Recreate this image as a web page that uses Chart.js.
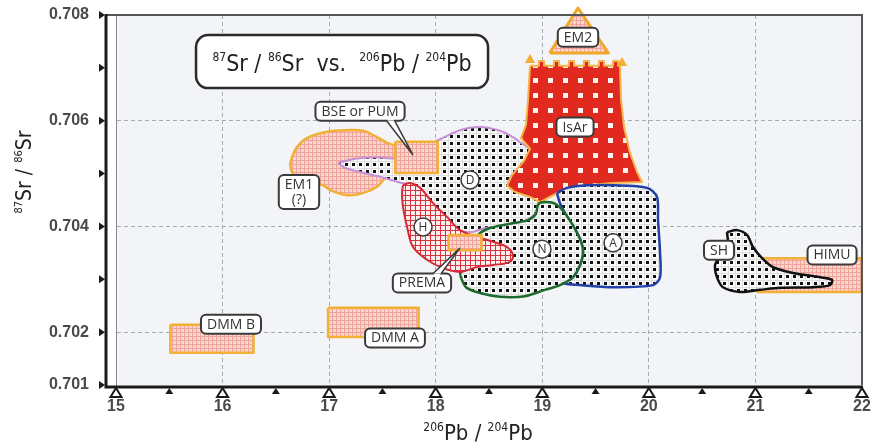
<!DOCTYPE html>
<html>
<head>
<meta charset="utf-8">
<script src="https://cdn.jsdelivr.net/npm/chart.js@4.4.1/dist/chart.umd.min.js"></script>
<style>
  html, body { margin: 0; padding: 0; background: #ffffff; }
  #wrap { width: 873px; height: 446px; }
</style>
</head>
<body>
<div id="wrap"><canvas id="c" width="873" height="446"></canvas></div>
<script>
// ---------- axes ----------
const xMajorTicks = [15, 16, 17, 18, 19, 20, 21, 22];
const xMinorTicks = [15.5, 16.5, 17.5, 18.5, 19.5, 20.5, 21.5];
const yLabelTicks = [0.701, 0.702, 0.704, 0.706, 0.708];
const yMarkerTicks = [0.701, 0.702, 0.703, 0.704, 0.705, 0.706, 0.707, 0.708];

// ---------- mantle fields: [206Pb/204Pb, 87Sr/86Sr] ----------
const dmmB = [[15.51, 0.70214], [16.29, 0.70214], [16.29, 0.70161], [15.51, 0.70161]];
const dmmA = [[16.99, 0.70246], [17.84, 0.70246], [17.84, 0.70191], [16.99, 0.70191]];
const himu = [[21.02, 0.70340], [22.00, 0.70340], [22.00, 0.70276], [21.02, 0.70276]];
const bse = [[17.62, 0.70560], [18.02, 0.70560], [18.02, 0.70501], [17.62, 0.70501]];
const prema = [[18.12, 0.70384], [18.43, 0.70384], [18.43, 0.70355], [18.12, 0.70355]];
const em2 = [[19.07, 0.70728], [19.335, 0.70813], [19.62, 0.70728]];

const em1 = [[16.633, 0.70516], [16.652, 0.70531], [16.698, 0.70550], [16.792, 0.70567], [16.980, 0.70579],
  [17.168, 0.70582], [17.318, 0.70581], [17.449, 0.70569], [17.543, 0.70558], [17.627, 0.70550],
  [17.627, 0.70495], [17.543, 0.70494], [17.449, 0.70475], [17.318, 0.70463], [17.168, 0.70459],
  [17.008, 0.70469], [16.942, 0.70478], [16.820, 0.70482], [16.698, 0.70494], [16.652, 0.70503]];

const fieldD = [[17.083, 0.70520], [17.243, 0.70528], [17.430, 0.70531], [17.618, 0.70529], [17.759, 0.70541],
  [17.899, 0.70552], [18.040, 0.70565], [18.228, 0.70582], [18.416, 0.70588], [18.603, 0.70581],
  [18.725, 0.70569], [18.800, 0.70558], [18.885, 0.70545], [18.828, 0.70522], [18.716, 0.70497],
  [18.678, 0.70478], [18.763, 0.70467], [18.903, 0.70461], [18.960, 0.70450], [18.941, 0.70427],
  [18.847, 0.70412], [18.650, 0.70401], [18.463, 0.70397], [18.322, 0.70389], [18.181, 0.70397],
  [18.040, 0.70422], [17.899, 0.70450], [17.759, 0.70477], [17.646, 0.70484], [17.477, 0.70494],
  [17.290, 0.70503], [17.149, 0.70511]];

const isAr = [[18.885, 0.70704],
  [18.969, 0.70704], [18.969, 0.70713], [19.016, 0.70713], [19.016, 0.70704],
  [19.110, 0.70704], [19.110, 0.70713], [19.157, 0.70713], [19.157, 0.70704],
  [19.251, 0.70704], [19.251, 0.70713], [19.298, 0.70713], [19.298, 0.70704],
  [19.391, 0.70704], [19.391, 0.70713], [19.438, 0.70713], [19.438, 0.70704],
  [19.532, 0.70704], [19.532, 0.70713], [19.579, 0.70713], [19.579, 0.70704],
  [19.664, 0.70704], [19.664, 0.70713], [19.711, 0.70713], [19.711, 0.70704],
  [19.729, 0.70704], [19.739, 0.70639], [19.767, 0.70588], [19.823, 0.70539], [19.889, 0.70503],
  [19.936, 0.70484], [19.664, 0.70482], [19.420, 0.70478], [19.232, 0.70473], [19.101, 0.70459],
  [18.979, 0.70446], [18.885, 0.70456], [18.744, 0.70465], [18.669, 0.70477], [18.716, 0.70497],
  [18.828, 0.70524], [18.885, 0.70547], [18.800, 0.70567], [18.847, 0.70592], [18.866, 0.70639]];
const isArArrows = [[18.885, 0.70715], [19.748, 0.70709]];

const fieldA = [[19.138, 0.70463], [19.232, 0.70473], [19.420, 0.70478], [19.664, 0.70478], [19.983, 0.70473],
  [20.076, 0.70456], [20.086, 0.70412], [20.105, 0.70350], [20.105, 0.70304], [20.039, 0.70289],
  [19.664, 0.70285], [19.354, 0.70289], [19.195, 0.70293], [19.279, 0.70302], [19.354, 0.70327],
  [19.382, 0.70355], [19.336, 0.70384], [19.223, 0.70422], [19.166, 0.70444]];

const fieldN = [[18.228, 0.70308], [18.275, 0.70346], [18.397, 0.70384], [18.509, 0.70397], [18.697, 0.70405],
  [18.866, 0.70412], [18.941, 0.70424], [18.960, 0.70441], [19.026, 0.70446], [19.129, 0.70442],
  [19.223, 0.70422], [19.336, 0.70384], [19.382, 0.70355], [19.354, 0.70327], [19.279, 0.70302],
  [19.166, 0.70289], [19.026, 0.70280], [18.838, 0.70268], [18.603, 0.70267], [18.416, 0.70274],
  [18.284, 0.70285]];

const fieldH = [[17.693, 0.70478], [17.759, 0.70482], [17.853, 0.70473], [17.975, 0.70444], [18.106, 0.70418],
  [18.228, 0.70393], [18.387, 0.70380], [18.538, 0.70371], [18.669, 0.70361], [18.725, 0.70346],
  [18.697, 0.70333], [18.538, 0.70327], [18.387, 0.70323], [18.228, 0.70314], [18.068, 0.70321],
  [17.918, 0.70337], [17.787, 0.70361], [17.731, 0.70399], [17.693, 0.70437], [17.684, 0.70463]];

const fieldSH = [[20.733, 0.70389], [20.827, 0.70393], [20.921, 0.70384], [20.977, 0.70361], [21.062, 0.70340],
  [21.165, 0.70323], [21.353, 0.70312], [21.606, 0.70304], [21.719, 0.70299], [21.700, 0.70289],
  [21.540, 0.70285], [21.231, 0.70284], [21.043, 0.70280], [20.855, 0.70276], [20.696, 0.70285],
  [20.639, 0.70304], [20.621, 0.70327], [20.668, 0.70342], [20.733, 0.70352], [20.743, 0.70369]];

// ---------- labels ----------
const boxLabels = [
  { lines: ['DMM B'], at: [16.079, 0.70215] },
  { lines: ['DMM A'], at: [17.618, 0.70189] },
  { lines: ['HIMU'], at: [21.719, 0.70346] },
  { lines: ['SH'], at: [20.658, 0.70355] },
  { lines: ['IsAr'], at: [19.307, 0.70588] },
  { lines: ['EM2'], at: [19.335, 0.70758] },
  { lines: ['EM1', '(?)'], at: [16.717, 0.70465] },
  { lines: ['BSE or PUM'], at: [17.290, 0.70618], tail: [17.787, 0.70535] },
  { lines: ['PREMA'], at: [17.871, 0.70293], tail: [18.228, 0.70359] }
];
const circleLabels = [
  { text: 'H', at: [17.881, 0.70399] },
  { text: 'D', at: [18.322, 0.70488] },
  { text: 'N', at: [18.997, 0.70357] },
  { text: 'A', at: [19.664, 0.70369] }
];
const titleAt = [17.121, 0.70711];

// ---------- fills ----------
const NARROW = "'Liberation Sans Narrow', 'DejaVu Sans Condensed', 'Liberation Sans', sans-serif";
const canvas = document.getElementById('c');
const ctx0 = canvas.getContext('2d');
function makePattern(size, paint) {
  const c = document.createElement('canvas');
  c.width = c.height = size;
  paint(c.getContext('2d'), size);
  return ctx0.createPattern(c, 'repeat');
}
const pinkMesh = makePattern(4, (g, s) => {
  g.fillStyle = '#f8d6ce'; g.fillRect(0, 0, s, s);
  g.fillStyle = '#eea49a'; g.fillRect(0, 0, s, 1); g.fillRect(0, 0, 1, s);
});
const dotFill = makePattern(7, (g, s) => {
  g.fillStyle = '#fbfbfb'; g.fillRect(0, 0, s, s);
  g.fillStyle = '#dedede'; g.fillRect(0, 0, s, 1); g.fillRect(0, 0, 1, s);
  g.fillStyle = '#111111'; g.fillRect(2, 2, 3, 3);
});
const redMesh = makePattern(5, (g, s) => {
  g.fillStyle = '#d9343d'; g.fillRect(0, 0, s, s);
  g.fillStyle = '#fbeeee'; g.fillRect(1, 1, 4, 4);
});
const isArFill = makePattern(15, (g, s) => {
  g.fillStyle = '#e2291f'; g.fillRect(0, 0, s, s);
  g.fillStyle = '#fff4ef'; g.fillRect(8, 3, 5, 5);
});

const ORANGE = '#f2b035';
function field(points, fillStyle, lineColor, extra) {
  const pts = points.map(([x, y]) => ({ x, y }));
  pts.push({ x: points[0][0], y: points[0][1] });
  return Object.assign({
    data: pts, showLine: true, fill: 'shape', pointRadius: 0, pointHoverRadius: 0,
    tension: 0, borderWidth: 2.5, borderColor: lineColor, backgroundColor: fillStyle,
    borderJoinStyle: 'round'
  }, extra || {});
}

// bottom to top
const layers = [
  field(dmmB, pinkMesh, ORANGE),
  field(dmmA, pinkMesh, ORANGE),
  field(himu, pinkMesh, ORANGE),
  field(em1, pinkMesh, ORANGE, { tension: 0.35 }),
  field(fieldD, dotFill, '#c68fd6', { tension: 0.3, borderWidth: 2 }),
  field(bse, pinkMesh, ORANGE),
  field(isAr, isArFill, '#f3b54a', { borderWidth: 2 }),
  field(fieldA, dotFill, '#2240a8', { tension: 0.3 }),
  field(fieldN, dotFill, '#1d6a2c', { tension: 0.3 }),
  field(fieldH, redMesh, '#d42a36', { tension: 0.35, borderWidth: 2 }),
  field(prema, pinkMesh, ORANGE),
  field(fieldSH, dotFill, '#111111', { tension: 0.3, borderWidth: 2.5 }),
  field(em2, pinkMesh, '#f0a828', { borderWidth: 3, clip: false }),
  {
    data: isArArrows.map(([x, y]) => ({ x, y })), showLine: false, pointStyle: 'triangle',
    pointRadius: 6, backgroundColor: ORANGE, borderColor: ORANGE, borderWidth: 0, clip: false
  }
];
layers.forEach((d, i) => { d.order = layers.length - i; });

// ---------- drawing helpers ----------
function toPx(chart, p) {
  return [chart.scales.x.getPixelForValue(p[0]), chart.scales.y.getPixelForValue(p[1])];
}
function rrect(ctx, x, y, w, h, r) {
  ctx.beginPath();
  ctx.moveTo(x + r, y);
  ctx.lineTo(x + w - r, y); ctx.arcTo(x + w, y, x + w, y + r, r);
  ctx.lineTo(x + w, y + h - r); ctx.arcTo(x + w, y + h, x + w - r, y + h, r);
  ctx.lineTo(x + r, y + h); ctx.arcTo(x, y + h, x, y + h - r, r);
  ctx.lineTo(x, y + r); ctx.arcTo(x, y, x + r, y, r);
  ctx.closePath();
}
function drawRich(ctx, parts, cx, baseline, big, small, family, color) {
  let total = 0;
  const items = parts.map(p => {
    const size = p.sup ? small : big;
    ctx.font = size + 'px ' + family;
    const w = ctx.measureText(p.t).width;
    total += w;
    return { t: p.t, sup: p.sup, size, w };
  });
  let x = cx - total / 2;
  ctx.fillStyle = color;
  ctx.textAlign = 'left';
  ctx.textBaseline = 'alphabetic';
  items.forEach(it => {
    ctx.font = it.size + 'px ' + family;
    ctx.fillText(it.t, x, it.sup ? baseline - big * 0.42 : baseline);
    x += it.w;
  });
}
const srParts = [{ t: '87', sup: true }, { t: 'Sr / ' }, { t: '86', sup: true }, { t: 'Sr' }];
const pbParts = [{ t: '206', sup: true }, { t: 'Pb / ' }, { t: '204', sup: true }, { t: 'Pb' }];

const decor = {
  id: 'decor',
  beforeDraw(chart) {
    const { ctx, chartArea: a } = chart;
    ctx.save();
    ctx.fillStyle = '#ffffff';
    ctx.fillRect(0, 0, chart.width, chart.height);
    ctx.fillStyle = '#f3f4f7';
    ctx.fillRect(a.left, a.top, a.right - a.left, a.bottom - a.top);
    ctx.restore();
  },
  afterDatasetsDraw(chart) {
    const { ctx } = chart;
    ctx.save();
    // boxed labels with optional pointer
    boxLabels.forEach(lb => {
      const [cx, cy] = toPx(chart, lb.at);
      ctx.font = '14px "Open Sans", "Liberation Sans", sans-serif';
      const tw = Math.max(...lb.lines.map(s => ctx.measureText(s).width));
      const w = tw + 12, lh = 15, h = lb.lines.length * lh + 4;
      const x = cx - w / 2, y = cy - h / 2;
      rrect(ctx, x, y, w, h, 5);
      ctx.fillStyle = '#ffffff'; ctx.fill();
      ctx.lineWidth = 2; ctx.strokeStyle = '#3a3a3a'; ctx.stroke();
      if (lb.tail) {
        const [tx, ty] = toPx(chart, lb.tail);
        const above = ty < cy;
        const ex = x + w - 14, ey = above ? y : y + h;
        ctx.beginPath();
        ctx.moveTo(ex - 4, ey); ctx.lineTo(tx, ty); ctx.lineTo(ex + 4, ey);
        ctx.fillStyle = '#ffffff'; ctx.fill();
        ctx.lineWidth = 1.5; ctx.strokeStyle = '#3a3a3a'; ctx.stroke();
        ctx.beginPath(); ctx.moveTo(ex - 3, ey + (above ? 1.5 : -1.5)); ctx.lineTo(ex + 3, ey + (above ? 1.5 : -1.5));
        ctx.lineWidth = 2.5; ctx.strokeStyle = '#ffffff'; ctx.stroke();
      }
      ctx.fillStyle = '#333333';
      ctx.textAlign = 'center'; ctx.textBaseline = 'middle';
      lb.lines.forEach((s, i) => {
        ctx.fillText(s, cx, y + 2 + lh * i + lh / 2 + 0.5);
      });
    });
    // circled letters
    circleLabels.forEach(cl => {
      const [cx, cy] = toPx(chart, cl.at);
      ctx.beginPath(); ctx.arc(cx, cy, 9, 0, Math.PI * 2);
      ctx.fillStyle = '#ffffff'; ctx.fill();
      ctx.lineWidth = 1.5; ctx.strokeStyle = '#3a3a3a'; ctx.stroke();
      ctx.font = '12px "Open Sans", "Liberation Sans", sans-serif';
      ctx.fillStyle = '#333333'; ctx.textAlign = 'center'; ctx.textBaseline = 'middle';
      ctx.fillText(cl.text, cx, cy + 0.5);
    });
    ctx.restore();
  },
  afterDraw(chart) {
    const { ctx, chartArea: a } = chart;
    const xs = chart.scales.x, ys = chart.scales.y;
    ctx.save();
    // frame of the plotting field
    ctx.strokeStyle = '#555555'; ctx.lineWidth = 2;
    ctx.beginPath();
    ctx.moveTo(a.left - 10, a.top); ctx.lineTo(a.right, a.top); ctx.lineTo(a.right, a.bottom);
    ctx.stroke();
    // heavy axis lines
    ctx.strokeStyle = '#1a1a1a'; ctx.lineWidth = 3;
    ctx.beginPath();
    ctx.moveTo(a.left - 10, a.top - 1); ctx.lineTo(a.left - 10, a.bottom + 2);
    ctx.lineTo(a.right + 1, a.bottom + 2);
    ctx.stroke();
    // y tick markers
    ctx.fillStyle = '#1a1a1a';
    yMarkerTicks.forEach(v => {
      const y = ys.getPixelForValue(v);
      const tip = a.left - 11;
      ctx.beginPath(); ctx.moveTo(tip, y); ctx.lineTo(tip - 6, y - 4); ctx.lineTo(tip - 6, y + 4); ctx.closePath(); ctx.fill();
    });
    // x tick markers
    const base = a.bottom + 3;
    xMinorTicks.forEach(v => {
      const x = xs.getPixelForValue(v);
      ctx.beginPath(); ctx.moveTo(x, base); ctx.lineTo(x - 4, base + 6); ctx.lineTo(x + 4, base + 6); ctx.closePath();
      ctx.fillStyle = '#1a1a1a'; ctx.fill();
    });
    xMajorTicks.forEach(v => {
      const x = xs.getPixelForValue(v);
      ctx.beginPath(); ctx.moveTo(x, base); ctx.lineTo(x - 5.5, base + 9); ctx.lineTo(x + 5.5, base + 9); ctx.closePath();
      ctx.fillStyle = '#ffffff'; ctx.fill();
      ctx.lineWidth = 2; ctx.strokeStyle = '#1a1a1a'; ctx.lineJoin = 'miter'; ctx.stroke();
    });
    // title box
    const [tx, ty] = toPx(chart, titleAt);
    rrect(ctx, tx - 146, ty - 27, 292, 53, 12);
    ctx.fillStyle = '#ffffff'; ctx.fill();
    ctx.lineWidth = 2.5; ctx.strokeStyle = '#2a2a2a'; ctx.stroke();
    drawRich(ctx, srParts.concat([{ t: '  vs.  ' }], pbParts), tx, ty + 9, 23, 12, NARROW, '#222222');
    // axis titles
    drawRich(ctx, pbParts, 478, 440, 22, 12, NARROW, '#222222');
    ctx.translate(24, 172);
    ctx.rotate(-Math.PI / 2);
    drawRich(ctx, srParts, 0, 7, 21, 11, NARROW, '#222222');
    ctx.restore();
  }
};

new Chart(canvas, {
  type: 'scatter',
  data: { datasets: layers },
  options: {
    responsive: false,
    animation: false,
    events: [],
    layout: { padding: { top: 15, right: 11, left: 0, bottom: 0 } },
    plugins: { legend: { display: false }, tooltip: { enabled: false } },
    scales: {
      x: {
        type: 'linear', min: 15, max: 22,
        afterFit(s) { s.height = 61; s.paddingLeft = 0; s.paddingRight = 0; },
        afterBuildTicks(s) { s.ticks = xMajorTicks.map(v => ({ value: v })); },
        ticks: {
          padding: 12, color: '#4a4a4a',
          font: { family: "'Liberation Sans', Arial, sans-serif", size: 16, weight: 'bold' },
          callback: v => String(v)
        },
        grid: {
          drawTicks: false, lineWidth: 1,
          color: c => (c.tick && (c.tick.value === 15 || c.tick.value === 22)) ? 'rgba(0,0,0,0)' : '#a6abb4'
        },
        border: { display: false, dash: [4, 3] }
      },
      y: {
        type: 'linear', min: 0.701, max: 0.708,
        afterFit(s) { s.width = 116; s.paddingTop = 0; s.paddingBottom = 0; },
        afterBuildTicks(s) { s.ticks = yLabelTicks.map(v => ({ value: v })); },
        ticks: {
          padding: 27, color: '#4a4a4a',
          font: { family: "'Liberation Sans', Arial, sans-serif", size: 16, weight: 'bold' },
          callback: v => Number(v).toFixed(3)
        },
        grid: {
          drawTicks: false, lineWidth: 1,
          color: c => (c.tick && (c.tick.value <= 0.7011 || c.tick.value >= 0.7079)) ? 'rgba(0,0,0,0)' : '#a6abb4'
        },
        border: { display: true, color: '#8a8a8a', width: 1, dash: [4, 3] }
      }
    }
  },
  plugins: [decor]
});
</script>
</body>
</html>
